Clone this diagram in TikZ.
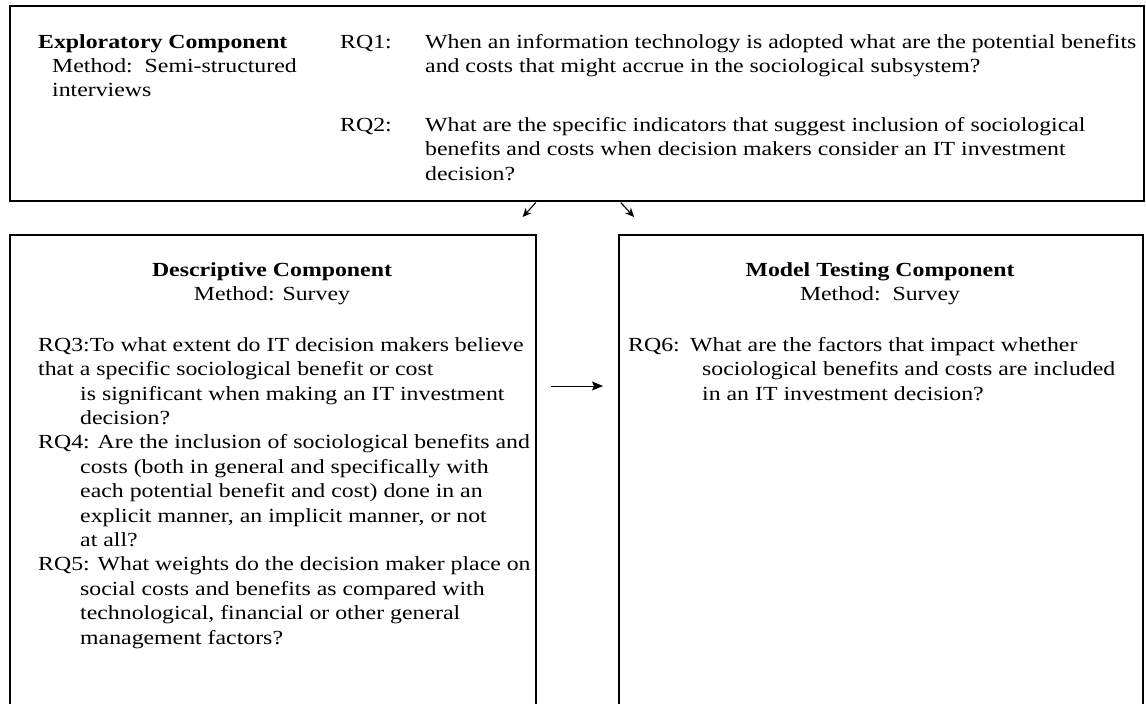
\documentclass[tikz,border=0pt]{standalone}
\usepackage{fontspec}
\setmainfont{Liberation Serif}[FakeStretch=1.19]
\usepackage{tikz}
\usetikzlibrary{arrows.meta}

\begin{document}
\begin{tikzpicture}[
    x=1pt, y=-1pt,
    every node/.style={font=\fontsize{20pt}{24.4pt}\selectfont},
    panel/.style={rectangle, draw, line width=1.6pt, inner sep=0pt, anchor=north west},
    txt/.style={anchor=north west, inner sep=0pt, align=left},
    head/.style={anchor=north, inner sep=0pt, align=center},
    arr/.style={line width=1.1pt, -{Stealth[length=9pt,width=8pt]}}
]
\useasboundingbox (0,0) rectangle (1146,704);

% Boxes
\node[panel, minimum width=1134pt, minimum height=195pt] (explor) at (9,5) {};
\node[panel, minimum width=526pt, minimum height=476pt] (desc) at (9,234) {};
\node[panel, minimum width=524pt, minimum height=476pt] (model) at (618,234) {};

% Exploratory component
\node[txt] (exphead) at (38,31) {\strut\textbf{Exploratory Component}};
\node[txt] (expmeth) at (52,55) {\strut Method:\ \ Semi-structured\\interviews};
\node[txt] (rqonelab) at (340,31) {\strut RQ1:};
\node[txt] (rqone) at (425,31) {\strut When an information technology is adopted what are the potential benefits\\
    and costs that might accrue in the sociological subsystem?};
\node[txt] (rqtwolab) at (340,114) {\strut RQ2:};
\node[txt] (rqtwo) at (425,114) {\strut What are the specific indicators that suggest inclusion of sociological\\
    benefits and costs when decision makers consider an IT investment\\
    decision?};

% Descriptive component
\node[head] (deschead) at (272,259) {\strut\textbf{Descriptive Component}\\Method: Survey};
\node[txt] (descrq) at (38,334) {\strut RQ3:To what extent do IT decision makers believe\\
    that a specific sociological benefit or cost\\
    \hspace*{42pt}is significant when making an IT investment\\
    \hspace*{42pt}decision?\\
    RQ4: Are the inclusion of sociological benefits and\\
    \hspace*{42pt}costs (both in general and specifically with\\
    \hspace*{42pt}each potential benefit and cost) done in an\\
    \hspace*{42pt}explicit manner, an implicit manner, or not\\
    \hspace*{42pt}at all?\\
    RQ5: What weights do the decision maker place on\\
    \hspace*{42pt}social costs and benefits as compared with\\
    \hspace*{42pt}technological, financial or other general\\
    \hspace*{42pt}management factors?};

% Model testing component
\node[head] (modelhead) at (880,259) {\strut\textbf{Model Testing Component}\\Method:\ \ Survey};
\node[txt] (rqsixlab) at (628,334) {\strut RQ6:};
\node[txt] (rqsix) at (690,334) {\strut What are the factors that impact whether\\
    \hspace*{12pt}sociological benefits and costs are included\\
    \hspace*{12pt}in an IT investment decision?};

% Arrows
\draw[arr] ([xshift=-41pt,yshift=-1pt]explor.south) -- ([xshift=-14pt,yshift=17pt]desc.north east);
\draw[arr] ([xshift=44pt,yshift=-1pt]explor.south) -- ([xshift=16pt,yshift=17pt]model.north west);
\draw[arr, line width=1pt, -{Stealth[length=11pt,width=9pt,inset=2pt]}] ([xshift=14pt,yshift=-152pt]desc.north east) -- ([xshift=-15pt,yshift=-152pt]model.north west);

\end{tikzpicture}
\end{document}
